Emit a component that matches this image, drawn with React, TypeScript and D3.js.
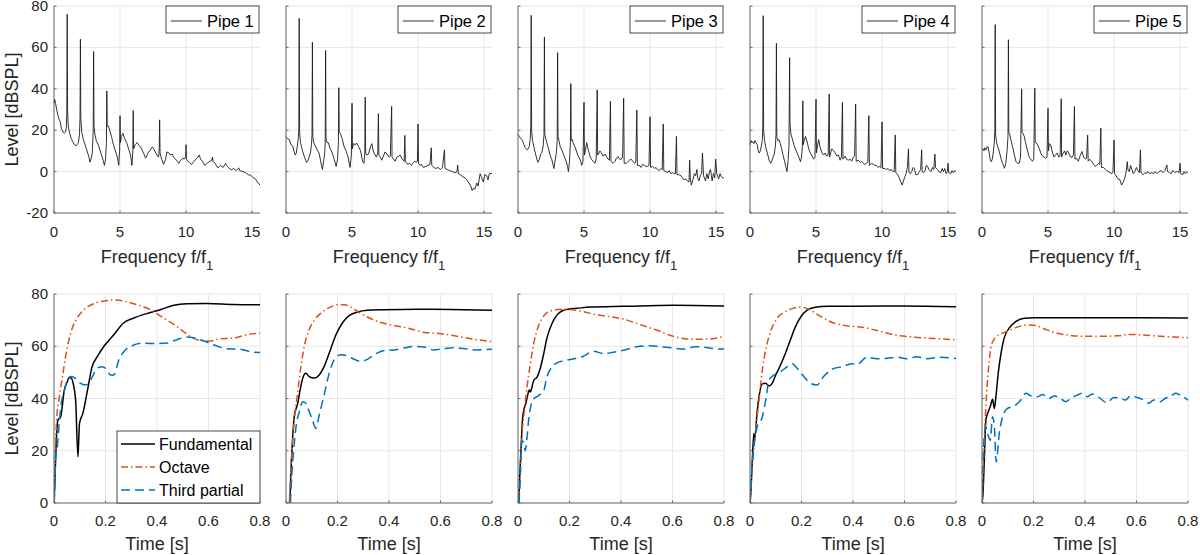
import React from "react";
import * as d3 from "d3";

type Pt = [number, number];

// ---- data ----
const pipeNames = ["Pipe 1", "Pipe 2", "Pipe 3", "Pipe 4", "Pipe 5"];
const seriesNames = ["Fundamental", "Octave", "Third partial"];

const freqTicks = [0, 5, 10, 15];
const levelTicksTop = [-20, 0, 20, 40, 60, 80];
const timeTicks = [0, 0.2, 0.4, 0.6, 0.8];
const levelTicksBottom = [0, 20, 40, 60, 80];

const spectrum1: Pt[] = [
  [0,33],[0.05,35],[0.12,33],[0.2,30],[0.3,27],[0.4,25],[0.48,24],[0.55,21],[0.62,20],[0.7,19],[0.78,18.5],[0.86,19],[0.93,21],[0.97,28],[1,76],[1.03,29],[1.08,22],[1.17,19],[1.3,16],[1.42,14.5],[1.55,13],[1.67,12.5],[1.75,13],[1.85,14],[1.93,18],[1.97,26],[2,64],[2.03,26],[2.1,19],[2.2,16],[2.3,14],[2.45,11],[2.55,9],[2.65,7],[2.72,4.5],[2.8,6],[2.9,9],[2.97,20],[3,58],[3.03,22],[3.1,18],[3.2,15],[3.35,13],[3.5,10],[3.6,8],[3.72,5.5],[3.82,3],[3.9,6],[3.97,14],[4,39],[4.03,22],[4.12,22],[4.22,20],[4.35,17],[4.5,13],[4.65,10],[4.8,7],[4.9,3],[4.97,10],[5,27],[5.03,14],[5.1,17],[5.22,18.5],[5.35,16],[5.5,14],[5.65,11],[5.8,8],[5.9,3],[5.97,10],[6,29.5],[6.03,11],[6.15,13],[6.3,14],[6.45,12.5],[6.55,12],[6.7,10],[6.85,8],[6.93,6.5],[7,7],[7.1,9],[7.25,10],[7.45,12],[7.55,11],[7.67,9.5],[7.8,8],[7.92,7],[7.97,11],[8,25],[8.03,9],[8.15,6],[8.3,3.5],[8.45,6],[8.55,9.5],[8.7,9],[8.85,8],[8.95,8.5],[9.05,7],[9.2,6],[9.35,5],[9.45,4],[9.6,5.5],[9.75,6.5],[9.85,6],[9.97,7],[10,13],[10.03,6],[10.15,5],[10.3,4],[10.42,3.5],[10.6,5],[10.75,6],[10.9,7],[11,8],[11.1,6],[11.25,5],[11.42,3],[11.6,4],[11.8,5],[11.95,5.5],[12,7],[12.05,5],[12.2,4],[12.4,1.8],[12.6,3],[12.8,2],[13,4],[13.05,3],[13.2,2],[13.42,0.8],[13.6,1.5],[13.8,0.5],[14,1.8],[14.05,0.5],[14.3,0],[14.5,-0.5],[14.7,-1.5],[14.9,-1.8],[15.1,-3],[15.25,-3.5],[15.4,-5],[15.6,-6.5],
];
const spectrum2: Pt[] = [
  [0,17],[0.1,16],[0.25,15.5],[0.38,13],[0.5,12.5],[0.6,10],[0.7,8],[0.78,9],[0.85,12],[0.93,16],[0.97,20],[1,74],[1.03,19],[1.1,14],[1.25,10],[1.4,7],[1.55,4.5],[1.65,5],[1.75,7],[1.85,9],[1.93,13],[1.97,18],[2,62.5],[2.03,17],[2.1,14],[2.25,12],[2.4,10],[2.5,9],[2.6,6],[2.7,2.5],[2.76,1],[2.85,5],[2.93,9],[2.97,14],[3,58.5],[3.03,16],[3.1,14],[3.2,14],[3.35,11],[3.5,9],[3.65,6],[3.8,2.5],[3.9,6],[3.97,14],[4,40.5],[4.03,19],[4.12,18.5],[4.25,16],[4.4,12],[4.55,10],[4.7,7],[4.85,2],[4.95,8],[5,33],[5.03,11],[5.1,13.5],[5.25,13],[5.35,13.8],[5.5,12],[5.65,10],[5.8,5],[5.9,4],[5.97,9],[6,36],[6.03,9],[6.12,8],[6.25,8.5],[6.4,12],[6.5,13.5],[6.6,10],[6.75,8],[6.85,7],[6.95,9],[7,28],[7.03,8],[7.15,7],[7.25,5.5],[7.35,7],[7.5,9.5],[7.65,8.5],[7.8,7],[7.9,7.5],[8,31.5],[8.03,7],[8.15,6],[8.25,5],[8.4,7],[8.55,7.5],[8.65,8],[8.8,6],[8.95,5],[9,17.5],[9.04,5],[9.2,3.5],[9.35,4],[9.5,3],[9.6,4],[9.75,5],[9.85,4.5],[9.95,5],[10,23],[10.03,4],[10.15,3],[10.25,3.5],[10.4,2],[10.6,2.5],[10.75,3],[10.9,3.5],[11,11.5],[11.04,3],[11.2,2],[11.35,1.5],[11.5,2],[11.7,1],[11.85,2],[12,10.5],[12.04,1.5],[12.2,1],[12.4,0.5],[12.6,0],[12.8,-0.5],[12.95,0],[13,3.2],[13.05,-1],[13.2,-1.5],[13.4,-2.5],[13.55,-3],[13.7,-4],[13.85,-5.5],[14,-7],[14.1,-9.2],[14.2,-8],[14.3,-8.5],[14.45,-5.5],[14.55,-7],[14.7,-1],[14.8,-2.5],[14.9,-4.5],[14.95,-5],[15.05,-1.5],[15.2,-2],[15.3,-4],[15.4,-1],[15.6,-0.8],
];
const spectrum3: Pt[] = [
  [0,18],[0.1,17],[0.2,16],[0.32,15.3],[0.45,13],[0.55,11.5],[0.62,11],[0.7,10.5],[0.77,11],[0.85,12],[0.93,16],[0.97,22],[1,75.5],[1.03,20],[1.1,15],[1.2,12],[1.35,8],[1.45,5.5],[1.52,4.5],[1.62,6],[1.72,8.5],[1.8,9],[1.9,12],[1.97,18],[2,65],[2.03,18],[2.1,16],[2.2,13.5],[2.35,10],[2.45,7.5],[2.55,6],[2.65,3.5],[2.72,1.5],[2.8,5],[2.9,9],[2.97,15],[3,57.5],[3.03,17],[3.1,15],[3.2,12],[3.35,10],[3.52,7],[3.65,5],[3.75,2.5],[3.82,0],[3.9,5],[3.97,14],[4,42.5],[4.03,15],[4.1,15.5],[4.2,13.5],[4.3,12],[4.4,10.5],[4.52,8],[4.65,6.5],[4.75,5],[4.82,3],[4.92,5],[5,33.5],[5.03,8],[5.1,10],[5.2,14],[5.3,11],[5.45,7.5],[5.55,6],[5.7,5],[5.82,4],[5.92,6],[6,39.5],[6.03,8],[6.1,8.5],[6.2,10],[6.32,9],[6.45,7.5],[6.6,8.5],[6.72,7],[6.82,6],[6.92,5.5],[7,34],[7.04,5],[7.2,4],[7.35,5],[7.45,6.5],[7.57,7.3],[7.7,6],[7.82,6],[7.92,7],[8,35.5],[8.04,4],[8.2,4],[8.35,5],[8.45,5.5],[8.57,6],[8.7,5],[8.82,4],[8.92,4.5],[9,29.8],[9.04,3],[9.2,3],[9.3,2],[9.45,3.5],[9.57,3],[9.7,2.5],[9.82,2.5],[9.92,3],[10,26.5],[10.04,2],[10.2,2.5],[10.35,1.5],[10.45,2],[10.57,1],[10.7,0.5],[10.82,1.5],[10.92,1],[11,23],[11.04,0.5],[11.2,0],[11.35,-0.5],[11.45,0.5],[11.57,-1],[11.7,-0.5],[11.82,-1],[11.92,-1],[12,17],[12.04,-1.5],[12.2,-1.5],[12.35,-2],[12.45,-3],[12.57,-4],[12.7,-3.5],[12.82,-4.5],[12.95,-5],[13,5.5],[13.05,-3],[13.12,-6.5],[13.25,-4],[13.35,-1],[13.45,-2],[13.55,1],[13.6,-3],[13.7,-4.5],[13.8,-2],[13.9,-1],[13.97,9],[14.05,-2],[14.2,-4.5],[14.3,-1],[14.4,-3.5],[14.5,0],[14.57,1],[14.65,-2],[14.7,-4.5],[14.8,-1],[14.9,-3],[14.97,6],[15.05,-1],[15.2,-3.5],[15.3,-1],[15.4,-2.5],[15.5,-3],[15.6,-3.2],
];
const spectrum4: Pt[] = [
  [0,13],[0.08,15],[0.15,14],[0.2,14.5],[0.3,13.5],[0.38,15],[0.45,14],[0.55,13],[0.62,10],[0.7,9],[0.78,10],[0.85,12],[0.93,15],[0.97,22],[1,75.3],[1.03,20],[1.1,15],[1.2,11.5],[1.35,8],[1.45,5.5],[1.57,4],[1.65,5],[1.75,7],[1.82,8],[1.92,12],[1.97,18],[2,62],[2.03,17],[2.1,15],[2.2,15.3],[2.3,13.5],[2.4,11],[2.5,8],[2.62,5],[2.72,2],[2.8,0],[2.88,5],[2.95,12],[3,55],[3.03,23],[3.1,18],[3.2,16],[3.35,12.5],[3.5,10],[3.57,9],[3.7,7],[3.82,4.8],[3.9,7],[3.97,12],[4,34.2],[4.03,13],[4.1,15],[4.2,17],[4.3,15],[4.45,11],[4.57,9],[4.7,7.5],[4.82,6],[4.92,7],[5,35],[5.03,9],[5.1,12],[5.2,15.5],[5.3,12],[5.45,9],[5.57,8],[5.7,9],[5.82,7.5],[5.92,8],[6,37.5],[6.03,7],[6.1,9],[6.2,11],[6.35,10],[6.45,9],[6.57,7.5],[6.7,8],[6.82,5.5],[6.92,7],[7,33.4],[7.04,6],[7.2,7.5],[7.3,6],[7.45,5.5],[7.57,6],[7.7,5],[7.82,7],[7.92,7.5],[8,32.6],[8.04,5],[8.2,5.5],[8.35,4.5],[8.45,5],[8.57,4],[8.7,3.5],[8.82,4],[8.92,4.5],[9,27],[9.04,3],[9.2,4],[9.35,3.5],[9.45,3],[9.57,3],[9.7,2],[9.82,2.5],[9.92,2],[10,24],[10.04,1.5],[10.2,1.5],[10.35,1],[10.45,1.5],[10.57,0.5],[10.7,1],[10.82,0],[10.92,0],[11,17.7],[11.04,-0.5],[11.2,-1.5],[11.3,-3],[11.42,-5],[11.52,-6.5],[11.6,-5],[11.7,-3],[11.82,-1],[11.92,2],[12,11],[12.04,-0.5],[12.15,-1],[12.25,0],[12.35,2],[12.45,1.5],[12.55,-1.5],[12.7,-1.5],[12.82,0],[12.92,1],[13,10.5],[13.04,0],[13.15,-0.5],[13.25,0.5],[13.35,3],[13.45,2.5],[13.55,1],[13.7,0],[13.82,2],[13.92,1],[14,8.4],[14.05,2],[14.2,1],[14.3,0],[14.45,-0.5],[14.55,1.5],[14.65,0],[14.75,1.5],[14.85,-1],[14.95,0],[15,4],[15.05,-0.5],[15.2,-1],[15.3,0.5],[15.4,-0.5],[15.5,0.5],[15.6,0],
];
const spectrum5: Pt[] = [
  [0,10.5],[0.08,11],[0.15,10],[0.2,11.5],[0.3,10.5],[0.38,12],[0.45,12],[0.55,9],[0.62,6],[0.7,4.8],[0.78,6],[0.85,9],[0.93,14],[0.97,20],[1,71],[1.03,18],[1.1,14],[1.2,12],[1.3,10],[1.45,6],[1.55,4],[1.65,2.5],[1.7,1.6],[1.8,4],[1.9,10],[1.97,17],[2,63.7],[2.03,19],[2.1,18],[2.2,15],[2.35,11],[2.45,8],[2.57,5],[2.7,4],[2.82,4],[2.92,7],[3,40],[3.03,19],[3.1,18.5],[3.2,17],[3.3,14],[3.45,10],[3.57,7],[3.7,6],[3.82,5],[3.92,6],[4,40.3],[4.03,14],[4.1,14],[4.2,13],[4.35,11],[4.45,9],[4.57,7.5],[4.7,7],[4.82,6.5],[4.92,7],[5,30.6],[5.03,10],[5.1,13.5],[5.2,13],[5.3,10],[5.45,7],[5.57,8],[5.7,9],[5.82,7],[5.92,8],[6,35.2],[6.03,7],[6.12,8.5],[6.25,10],[6.35,8],[6.45,10],[6.57,9],[6.7,7],[6.82,7],[6.92,8],[7,31.5],[7.04,6],[7.15,6.5],[7.3,5],[7.45,8],[7.57,9.7],[7.7,7],[7.82,6],[7.92,6.5],[8,17.7],[8.04,5],[8.15,6],[8.3,5],[8.45,3.5],[8.57,2.5],[8.7,3],[8.82,4],[8.92,3.5],[9,21],[9.04,2],[9.2,2],[9.35,1],[9.45,0.5],[9.57,0],[9.7,-0.5],[9.82,-1],[9.92,0],[10,15.3],[10.04,-1],[10.15,-2],[10.3,-3.5],[10.45,-4],[10.57,-6.5],[10.7,-5],[10.82,-3],[10.92,0],[11,4.8],[11.05,1],[11.15,0],[11.25,3],[11.35,1],[11.45,-1],[11.57,0],[11.7,2],[11.8,0.5],[11.92,-0.5],[12,10.5],[12.04,-0.5],[12.2,-1.5],[12.35,-0.5],[12.45,-1],[12.57,0],[12.7,-1],[12.85,-0.5],[13,-1],[13.1,0],[13.25,-1],[13.4,0],[13.57,0.5],[13.7,-0.5],[13.85,0.5],[14,3.2],[14.05,0],[14.2,-0.5],[14.32,-1],[14.45,0.5],[14.6,-0.5],[14.7,0],[14.82,0],[14.92,-0.5],[15,4],[15.05,-1],[15.2,-1.5],[15.3,0],[15.4,-1],[15.5,0],[15.6,-0.5],
];
const spectra = [spectrum1, spectrum2, spectrum3, spectrum4, spectrum5];

// level vs time: fundamental / octave / third partial
const fund1: Pt[] = [[0,0],[0.004,10],[0.009,24],[0.015,31.7],[0.026,33],[0.032,36.9],[0.039,42.6],[0.052,46.5],[0.058,48],[0.067,47.8],[0.075,45.5],[0.084,39.4],[0.093,17.7],[0.099,30.5],[0.112,34.3],[0.129,42.6],[0.148,52.2],[0.168,56],[0.194,60],[0.232,64.4],[0.27,68.9],[0.31,70.8],[0.36,72.5],[0.413,74],[0.465,75.7],[0.516,76.3],[0.594,76.4],[0.697,76],[0.8,75.9]];
const oct1: Pt[] = [[0,0],[0.004,13.8],[0.01,31.7],[0.019,39.4],[0.032,47.8],[0.045,56],[0.058,62.5],[0.071,67],[0.09,70.8],[0.116,74],[0.155,76.3],[0.194,77.3],[0.232,77.7],[0.27,77.3],[0.323,75.9],[0.374,74],[0.426,70.8],[0.477,67.6],[0.529,63.8],[0.568,62.2],[0.606,62],[0.645,62.9],[0.697,63.1],[0.748,64.4],[0.8,65]];
const third1: Pt[] = [[0,0],[0.003,5],[0.006,17.7],[0.013,21.5],[0.019,29],[0.028,38],[0.039,42.6],[0.052,47],[0.065,48.4],[0.084,47.7],[0.103,45.8],[0.123,45.2],[0.142,47],[0.168,51.6],[0.187,52.2],[0.206,51],[0.219,49],[0.232,49],[0.252,54.8],[0.277,58.6],[0.303,60.2],[0.348,61.2],[0.4,61],[0.439,61.2],[0.477,62.5],[0.516,63.5],[0.568,62.5],[0.619,60.6],[0.671,59],[0.723,58.9],[0.774,57.7],[0.8,57.6]];

const fund2: Pt[] = [[0.013,0],[0.015,1],[0.019,11.3],[0.026,25.4],[0.032,33],[0.045,38],[0.055,43.3],[0.065,47.8],[0.077,49.7],[0.09,48.4],[0.11,47.8],[0.129,49],[0.148,52.2],[0.168,57.4],[0.194,64.4],[0.219,68.9],[0.245,71.7],[0.277,73.1],[0.316,73.8],[0.381,74],[0.51,74.2],[0.639,74.1],[0.8,73.8]];
const oct2: Pt[] = [[0.013,0],[0.019,12.5],[0.032,31.7],[0.045,42],[0.058,52.2],[0.071,60],[0.09,66.3],[0.11,70],[0.135,72.6],[0.168,74.8],[0.2,75.9],[0.226,75.9],[0.252,75],[0.29,72.6],[0.342,70],[0.406,68.2],[0.471,67],[0.535,65.4],[0.6,64.8],[0.665,63.8],[0.729,62.7],[0.8,61.8]];
const third2: Pt[] = [[0.017,0],[0.022,10],[0.03,20.2],[0.039,29.2],[0.052,35],[0.065,38.8],[0.077,38.2],[0.09,35],[0.103,31.7],[0.116,28.5],[0.129,33.7],[0.148,41.4],[0.168,49.7],[0.187,54.8],[0.213,56.7],[0.239,56.3],[0.265,55],[0.29,54.2],[0.316,55],[0.342,56.7],[0.381,58.4],[0.419,58.6],[0.458,59.3],[0.497,59.9],[0.535,59.7],[0.574,58.6],[0.613,59.1],[0.652,59.4],[0.69,59.1],[0.742,58.6],[0.8,58.9]];

const fund3: Pt[] = [[0.003,0],[0.006,8.5],[0.012,21.3],[0.017,31.5],[0.022,35.4],[0.03,37.9],[0.037,41.1],[0.044,43.3],[0.048,42.5],[0.054,44.3],[0.061,46.9],[0.074,48.2],[0.086,51.4],[0.1,57.2],[0.112,63],[0.132,68.7],[0.151,71.9],[0.17,73.5],[0.196,74.2],[0.228,74.5],[0.28,75],[0.409,75.3],[0.603,75.7],[0.8,75.4]];
const oct3: Pt[] = [[0.003,0],[0.009,11],[0.015,25.1],[0.025,35.4],[0.035,44.4],[0.048,53.3],[0.061,61],[0.074,66.2],[0.093,70.6],[0.112,72.8],[0.138,73.8],[0.17,74.2],[0.2,74.1],[0.241,73.5],[0.293,72.3],[0.357,71.3],[0.409,70.4],[0.474,68.3],[0.538,66.2],[0.603,63.8],[0.667,62.7],[0.719,62.7],[0.764,63],[0.8,63.8]];
const third3: Pt[] = [[0.004,0],[0.009,11],[0.015,23.8],[0.022,23.2],[0.028,20],[0.035,25.1],[0.041,31.5],[0.05,37.3],[0.061,39.9],[0.08,41.1],[0.1,43.1],[0.112,48.2],[0.132,52.1],[0.151,53.6],[0.183,54.6],[0.222,55.3],[0.254,56.2],[0.293,58.1],[0.332,57.2],[0.37,57.7],[0.409,58.5],[0.46,59.8],[0.512,60.2],[0.551,59.8],[0.596,59.4],[0.641,58.9],[0.693,59.8],[0.732,59.5],[0.77,59],[0.8,58.9]];

const fund4: Pt[] = [[0,0],[0.003,3.6],[0.009,16.4],[0.015,26.6],[0.019,25],[0.026,33],[0.035,40.7],[0.048,45.6],[0.061,45.8],[0.074,44.8],[0.086,45.8],[0.1,49],[0.119,52.9],[0.138,57.4],[0.157,62.5],[0.177,67.6],[0.197,71.2],[0.222,73.8],[0.254,74.9],[0.3,75.3],[0.403,75.3],[0.597,75.4],[0.8,75.1]];
const oct4: Pt[] = [[0,0],[0.009,13.8],[0.022,27.9],[0.035,39.4],[0.048,51],[0.061,58.6],[0.08,65.7],[0.106,70.8],[0.138,73.3],[0.17,74.6],[0.197,75],[0.228,74.2],[0.274,71.4],[0.325,68.9],[0.377,67.8],[0.441,67.2],[0.506,65.7],[0.557,64.4],[0.635,63.5],[0.712,63],[0.8,62.5]];
const third4: Pt[] = [[0,0],[0.006,11.3],[0.015,21.5],[0.028,29.2],[0.048,33],[0.061,39.4],[0.074,47],[0.093,49],[0.119,50.3],[0.145,52.2],[0.164,53.3],[0.183,51.6],[0.209,48.4],[0.235,45.8],[0.261,45.2],[0.286,48.4],[0.319,51.2],[0.358,52.2],[0.396,53.3],[0.415,53],[0.454,55.8],[0.493,55.2],[0.532,55.4],[0.57,55.8],[0.609,55.2],[0.648,56],[0.687,55.2],[0.738,55.8],[0.8,55.3]];

const fund5: Pt[] = [[0,0],[0.003,2.3],[0.009,16.4],[0.015,31.7],[0.022,34.3],[0.032,36.9],[0.041,39.7],[0.048,36.2],[0.054,40.7],[0.063,49.7],[0.074,57.4],[0.086,63.1],[0.106,67],[0.132,69.5],[0.164,70.7],[0.203,70.9],[0.28,70.9],[0.409,70.9],[0.603,70.9],[0.8,70.8]];
const oct5: Pt[] = [[0,0],[0.006,16.4],[0.015,36.9],[0.026,52.2],[0.037,60.6],[0.054,63.5],[0.08,65],[0.112,66.3],[0.145,67.6],[0.177,68.1],[0.209,67.9],[0.241,66.7],[0.28,65.3],[0.332,64.3],[0.396,63.8],[0.461,63.8],[0.525,64],[0.577,64.5],[0.628,64.3],[0.693,63.8],[0.745,63.5],[0.8,63.3]];
const third5: Pt[] = [[0,0],[0.006,21.5],[0.015,29.2],[0.022,26.6],[0.032,24],[0.041,33],[0.048,29.2],[0.055,15.7],[0.067,26.6],[0.08,33],[0.099,36.2],[0.125,37.1],[0.151,39.4],[0.17,42],[0.19,41],[0.216,40.7],[0.235,41.5],[0.261,40],[0.28,41],[0.3,40.4],[0.325,38.8],[0.345,40.1],[0.37,41.3],[0.39,42],[0.409,40.7],[0.429,41.7],[0.454,40.4],[0.486,38.4],[0.512,40.4],[0.538,40.1],[0.557,39.4],[0.577,41],[0.603,40.4],[0.628,39.4],[0.648,38.2],[0.667,39.4],[0.693,38.8],[0.712,40.1],[0.732,40.7],[0.751,42],[0.77,41.3],[0.8,39.4]];

const envelopes: Pt[][][] = [
  [fund1, oct1, third1],
  [fund2, oct2, third2],
  [fund3, oct3, third3],
  [fund4, oct4, third4],
  [fund5, oct5, third5],
];

// ---- styling / layout ----
const FONT = "'Liberation Sans', Arial, Helvetica, sans-serif";
const seriesColors = ["#000000", "#D95319", "#0072BD"];
const seriesDash = ["none", "7,3,1.5,3", "9,5"];
const GRID = "#e6e6e6";
const AXIS = "#6b6b6b";
const PANEL_LEFT = 54;
const PANEL_STEP = 232;
const PANEL_W = 206;

function SpectrumPanel({ idx }: { idx: number }) {
  const x0 = PANEL_LEFT + idx * PANEL_STEP;
  const top = 6;
  const bottom = 213;
  const x = d3.scaleLinear().domain([0, 15.6]).range([x0, x0 + PANEL_W]);
  const y = d3.scaleLinear().domain([-20, 80]).range([bottom, top]);
  const line = d3.line<Pt>().x((d) => x(d[0])).y((d) => y(d[1]));
  const x1 = x0 + PANEL_W;
  const lb = { x: x1 - 94, y: top, w: 93, h: 27 };
  return (
    <g>
      {freqTicks.map((t) => (
        <line key={"gx" + t} x1={x(t)} x2={x(t)} y1={top} y2={bottom} stroke={GRID} />
      ))}
      {levelTicksTop.map((t) => (
        <line key={"gy" + t} x1={x0} x2={x1} y1={y(t)} y2={y(t)} stroke={GRID} />
      ))}
      <path d={line(spectra[idx]) || ""} fill="none" stroke="#1c1c1c" strokeWidth={0.9} strokeLinejoin="round" />
      <line x1={x0} x2={x0} y1={top} y2={bottom} stroke={AXIS} />
      <line x1={x0} x2={x1} y1={bottom} y2={bottom} stroke={AXIS} />
      {freqTicks.map((t) => (
        <g key={"tx" + t}>
          <line x1={x(t)} x2={x(t)} y1={bottom} y2={bottom - 2.5} stroke={AXIS} />
          <text x={x(t)} y={bottom + 24} textAnchor="middle" fontSize={15} fill="#262626">{t}</text>
        </g>
      ))}
      {levelTicksTop.map((t) => (
        <g key={"ty" + t}>
          <line x1={x0} x2={x0 + 2.5} y1={y(t)} y2={y(t)} stroke={AXIS} />
          {idx === 0 && (
            <text x={x0 - 6} y={y(t) + 5} textAnchor="end" fontSize={15} fill="#262626">{t}</text>
          )}
        </g>
      ))}
      <text x={x0 + PANEL_W / 2} y={263} textAnchor="middle" fontSize={18} fill="#262626">
        Frequency f/f<tspan fontSize={13} dy={7}>1</tspan>
      </text>
      <rect x={lb.x} y={lb.y} width={lb.w} height={lb.h} fill="#fff" stroke="#333" strokeWidth={0.9} />
      <line x1={lb.x + 5} x2={lb.x + 36} y1={lb.y + 15} y2={lb.y + 15} stroke="#1c1c1c" strokeWidth={0.9} />
      <text x={lb.x + 41} y={lb.y + 21} fontSize={16.5} fill="#000">{pipeNames[idx]}</text>
    </g>
  );
}

function EnvelopePanel({ idx }: { idx: number }) {
  const x0 = PANEL_LEFT + idx * PANEL_STEP;
  const top = 294;
  const bottom = 503;
  const x = d3.scaleLinear().domain([0, 0.8]).range([x0, x0 + PANEL_W]);
  const y = d3.scaleLinear().domain([0, 80]).range([bottom, top]);
  const line = d3.line<Pt>().x((d) => x(d[0])).y((d) => y(d[1])).curve(d3.curveMonotoneX);
  const x1 = x0 + PANEL_W;
  const lb = { x: x1 - 143, y: bottom - 72, w: 143, h: 72 };
  const entryY = [bottom - 59, bottom - 36, bottom - 13];
  return (
    <g>
      <defs>
        <clipPath id={"clipEnv" + idx}>
          <rect x={x0} y={top - 2} width={PANEL_W + 2} height={bottom - top + 2} />
        </clipPath>
      </defs>
      {timeTicks.map((t) => (
        <line key={"gx" + t} x1={x(t)} x2={x(t)} y1={top} y2={bottom} stroke={GRID} />
      ))}
      {levelTicksBottom.map((t) => (
        <line key={"gy" + t} x1={x0} x2={x1} y1={y(t)} y2={y(t)} stroke={GRID} />
      ))}
      <g clipPath={`url(#clipEnv${idx})`}>
        {envelopes[idx].map((s, i) => (
          <path key={i} d={line(s) || ""} fill="none" stroke={seriesColors[i]} strokeWidth={1.5}
            strokeDasharray={seriesDash[i]} strokeLinejoin="round" />
        ))}
      </g>
      <line x1={x0} x2={x0} y1={top} y2={bottom} stroke={AXIS} />
      <line x1={x0} x2={x1} y1={bottom} y2={bottom} stroke={AXIS} />
      {timeTicks.map((t) => (
        <g key={"tx" + t}>
          <line x1={x(t)} x2={x(t)} y1={bottom} y2={bottom - 2.5} stroke={AXIS} />
          <text x={x(t)} y={bottom + 23} textAnchor="middle" fontSize={15} fill="#262626">{t === 0 ? "0" : t.toFixed(1)}</text>
        </g>
      ))}
      {levelTicksBottom.map((t) => (
        <g key={"ty" + t}>
          <line x1={x0} x2={x0 + 2.5} y1={y(t)} y2={y(t)} stroke={AXIS} />
          {idx === 0 && (
            <text x={x0 - 6} y={y(t) + 5} textAnchor="end" fontSize={15} fill="#262626">{t}</text>
          )}
        </g>
      ))}
      <text x={x0 + PANEL_W / 2} y={550} textAnchor="middle" fontSize={18} fill="#262626">Time [s]</text>
      {idx === 0 && (
        <g>
          <rect x={lb.x} y={lb.y} width={lb.w} height={lb.h} fill="#fff" stroke="#333" strokeWidth={0.9} />
          {seriesNames.map((n, i) => (
            <g key={n}>
              <line x1={lb.x + 4} x2={lb.x + 38} y1={entryY[i]} y2={entryY[i]} stroke={seriesColors[i]}
                strokeWidth={1.5} strokeDasharray={seriesDash[i]} />
              <text x={lb.x + 42} y={entryY[i] + 6} fontSize={16} fill="#000">{n}</text>
            </g>
          ))}
        </g>
      )}
    </g>
  );
}

export default function App() {
  return (
    <div style={{ position: "absolute", left: 0, top: 0, width: 1200, height: 555, background: "#fff" }}>
      <svg width={1200} height={555} style={{ display: "block", fontFamily: FONT }}>
        <rect width={1200} height={555} fill="#fff" />
        <text transform="translate(18,109.5) rotate(-90)" textAnchor="middle" fontSize={18} fill="#262626">Level [dBSPL]</text>
        <text transform="translate(18,398.5) rotate(-90)" textAnchor="middle" fontSize={18} fill="#262626">Level [dBSPL]</text>
        {pipeNames.map((_, i) => (
          <SpectrumPanel key={"s" + i} idx={i} />
        ))}
        {pipeNames.map((_, i) => (
          <EnvelopePanel key={"e" + i} idx={i} />
        ))}
      </svg>
    </div>
  );
}
